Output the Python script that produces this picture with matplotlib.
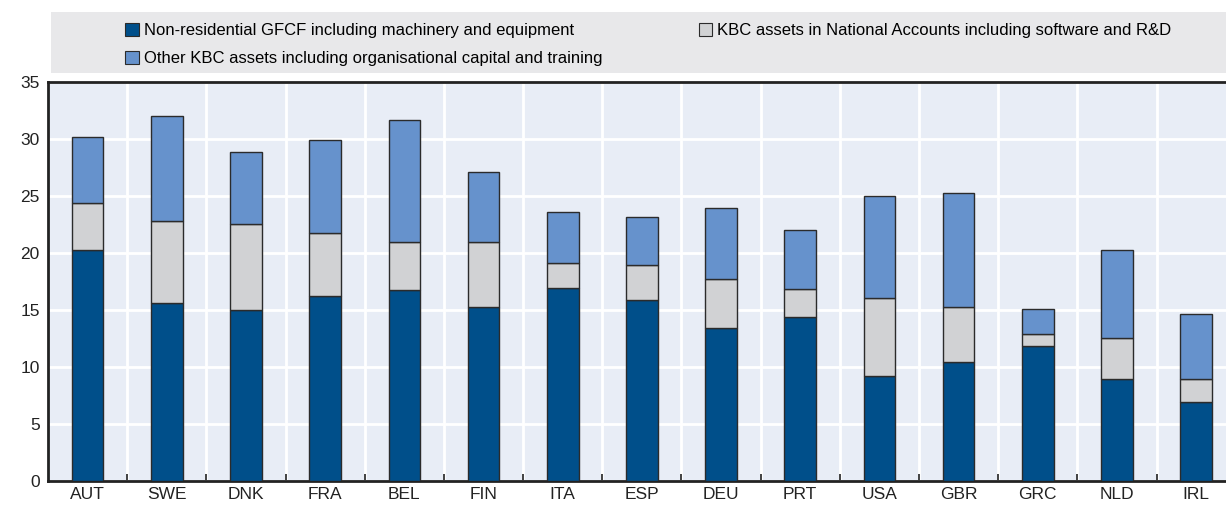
import matplotlib
matplotlib.use("Agg")
import matplotlib.pyplot as plt
import numpy as np
from matplotlib.patches import Rectangle, Patch
from matplotlib import font_manager

countries = ["AUT", "SWE", "DNK", "FRA", "BEL", "FIN", "ITA", "ESP", "DEU", "PRT",
             "USA", "GBR", "GRC", "NLD", "IRL"]
# cumulative levels
gfcf = [20.2, 15.6, 15.0, 16.25, 16.75, 15.25, 16.87, 15.9, 13.4, 14.36, 9.2, 10.4, 11.8, 8.95, 6.93]
level_na = [24.4, 22.8, 22.5, 21.7, 20.9, 20.9, 19.07, 18.9, 17.7, 16.84, 16.05, 15.23, 12.9, 12.5, 8.97]
level_total = [30.1, 31.96, 28.8, 29.9, 31.6, 27.05, 23.57, 23.1, 23.95, 22.0, 25.0, 25.26, 15.06, 20.2, 14.65]

kbc_na = [b - a for a, b in zip(gfcf, level_na)]
kbc_other = [c - b for b, c in zip(level_na, level_total)]

labels = ["Non-residential GFCF including machinery and equipment",
          "KBC assets in National Accounts including software and R&D",
          "Other KBC assets including organisational capital and training"]
colors = ["#004f8a", "#d1d2d4", "#6692cc"]

avail = {f.name for f in font_manager.fontManager.ttflist}
fam = "Liberation Sans Narrow" if "Liberation Sans Narrow" in avail else "Liberation Sans"
plt.rcParams['font.family'] = [fam, "DejaVu Sans"]

fig = plt.figure(figsize=(12.26, 5.05), dpi=100)
ax = fig.add_axes([0.0392, 0.0475, 0.9687, 0.791])
ax.set_facecolor("#e8edf6")

x = np.arange(len(countries))
w = 0.40
ec = "#2b2b2b"
ax.bar(x, gfcf, w, color=colors[0], edgecolor=ec, linewidth=1.0, zorder=3)
ax.bar(x, kbc_na, w, bottom=gfcf, color=colors[1], edgecolor=ec, linewidth=1.0, zorder=3)
ax.bar(x, kbc_other, w, bottom=level_na, color=colors[2], edgecolor=ec, linewidth=1.0, zorder=3)

ax.set_xlim(-0.5, len(countries) - 0.5)
ax.set_ylim(0, 35)
ax.set_yticks(np.arange(0, 36, 5))
ax.set_xticks(x)
ax.set_xticklabels(countries)
ax.set_xticks(np.arange(0.5, len(countries) - 0.5, 1), minor=True)
ax.tick_params(axis='x', which='major', length=0, labelsize=12.5, pad=4, colors="#222222")
ax.tick_params(axis='x', which='minor', length=5, direction='in', width=1.2, color="#222222")
ax.tick_params(axis='y', length=0, labelsize=12.5, pad=6, colors="#222222")
ax.grid(True, axis='y', color="white", linewidth=2, zorder=1)
ax.grid(True, axis='x', which='minor', color="white", linewidth=2, zorder=1)
ax.set_axisbelow(True)
for s in ["left", "bottom", "top"]:
    ax.spines[s].set_color("#222222")
    ax.spines[s].set_linewidth(2)
ax.spines["right"].set_visible(False)

# legend background
fig.patches.append(Rectangle((51 / 1226, 1 - 73 / 505), 1 - 51 / 1226, 61 / 505,
                             transform=fig.transFigure, facecolor="#e8e8ea",
                             edgecolor="none", zorder=0))
handles = [Patch(facecolor=colors[0], edgecolor=ec, linewidth=0.8),
           Patch(facecolor=colors[2], edgecolor=ec, linewidth=0.8),
           Patch(facecolor=colors[1], edgecolor=ec, linewidth=0.8)]
leg_labels = [labels[0], labels[2], labels[1]]
fig.legend(handles, leg_labels, ncol=2, loc="upper left",
           bbox_to_anchor=(117 / 1226, 1 - 15 / 505), frameon=False,
           fontsize=12, handlelength=0.8, handleheight=0.8, handletextpad=0.3,
           columnspacing=5.8, labelspacing=0.75, borderpad=0)

fig.savefig("out.png", dpi=100)
